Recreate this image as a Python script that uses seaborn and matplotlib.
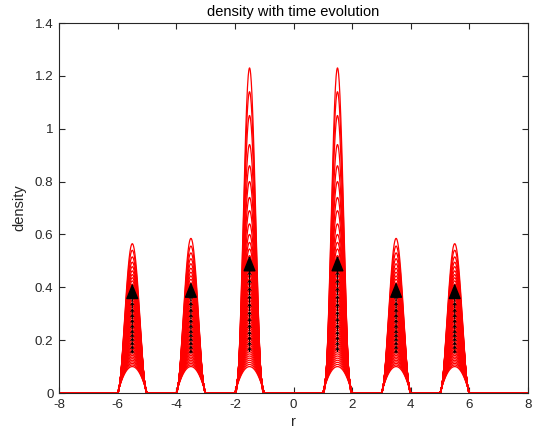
import numpy as np
import pandas as pd
import matplotlib
matplotlib.use("Agg")
import matplotlib.pyplot as plt
import seaborn as sns

# bump centres (support half-width 0.5)
centers = [-5.5, -3.5, -1.5, 1.5, 3.5, 5.5]
half_width = 0.5

# peak heights of successive time steps
peaks_outer = [0.100, 0.106, 0.112, 0.118, 0.124, 0.130, 0.136, 0.142, 0.148, 0.154,
               0.160, 0.166, 0.172, 0.178, 0.184, 0.190, 0.197, 0.204, 0.211, 0.218,
               0.225, 0.232, 0.239, 0.246, 0.253, 0.260, 0.268, 0.276, 0.284, 0.292,
               0.300, 0.308, 0.316, 0.324, 0.332, 0.340, 0.350, 0.360, 0.370, 0.380,
               0.390, 0.400, 0.412, 0.424, 0.436, 0.448, 0.462, 0.478, 0.495, 0.515,
               0.540, 0.565]
peaks_middle = [0.100, 0.106, 0.112, 0.118, 0.124, 0.130, 0.136, 0.142, 0.148, 0.154,
                0.160, 0.166, 0.172, 0.178, 0.184, 0.190, 0.197, 0.204, 0.211, 0.218,
                0.225, 0.232, 0.239, 0.246, 0.253, 0.260, 0.268, 0.276, 0.284, 0.292,
                0.300, 0.308, 0.316, 0.324, 0.333, 0.342, 0.352, 0.362, 0.372, 0.383,
                0.394, 0.405, 0.417, 0.430, 0.443, 0.457, 0.472, 0.489, 0.508, 0.530,
                0.556, 0.585]
peaks_inner = [0.100, 0.108, 0.116, 0.124, 0.132, 0.140, 0.148, 0.156, 0.164, 0.172,
               0.180, 0.188, 0.196, 0.204, 0.212, 0.220, 0.229, 0.238, 0.247, 0.256,
               0.265, 0.275, 0.285, 0.295, 0.305, 0.316, 0.327, 0.338, 0.350, 0.362,
               0.375, 0.388, 0.402, 0.416, 0.431, 0.446, 0.462, 0.480, 0.500, 0.520,
               0.545, 0.570, 0.600, 0.640, 0.690, 0.740, 0.800, 0.860, 0.940, 1.050,
               1.140, 1.230]
peaks_by_center = {-5.5: peaks_outer, -3.5: peaks_middle, -1.5: peaks_inner,
                   1.5: peaks_inner, 3.5: peaks_middle, 5.5: peaks_outer}

# arrow (velocity) markers: tail heights and final tip heights
arrow_tails_outer = [0.15, 0.165, 0.18, 0.195, 0.21, 0.225, 0.24, 0.26, 0.28,
                     0.30, 0.32, 0.345, 0.37]
arrow_tails_inner = [0.155, 0.175, 0.195, 0.215, 0.235, 0.26, 0.285, 0.31, 0.34,
                     0.37, 0.40, 0.43, 0.46]
arrow_tip = {-5.5: 0.415, -3.5: 0.42, -1.5: 0.52, 1.5: 0.52, 3.5: 0.42, 5.5: 0.415}

r = np.linspace(-8, 8, 3201)
rows = []
n_steps = len(peaks_inner)
for k in range(n_steps):
    dens = np.zeros_like(r)
    for c in centers:
        h = peaks_by_center[c][k]
        p = (h / 0.1) ** 0.45
        u = (r - c) / half_width
        inside = np.abs(u) < 1
        dens[inside] = h * (1 - u[inside] ** 2) ** p
    rows.append(pd.DataFrame({"r": r, "density": dens, "step": k}))
df = pd.concat(rows, ignore_index=True)

sns.set_style("white")
plt.rcParams["font.family"] = ["Liberation Sans", "DejaVu Sans"]

fig = plt.figure(figsize=(5.34, 4.40), dpi=100)
ax = fig.add_axes([59 / 534, 1 - 393 / 440, (528 - 59) / 534, (393 - 23) / 440])

sns.lineplot(data=df, x="r", y="density", units="step", estimator=None,
             color="red", linewidth=0.9, ax=ax, legend=False)

# velocity arrows
for c in centers:
    tails = arrow_tails_inner if abs(c) == 1.5 else arrow_tails_outer
    tip = arrow_tip[c]
    ys = list(tails) + [tip - 0.05]
    X = np.full(len(ys) - 1, c)
    Y = np.array(ys[:-1])
    V = np.diff(ys)
    ax.quiver(X, Y, np.zeros_like(V), V, angles="xy", scale_units="xy", scale=1,
              color="black", width=0.0025, headwidth=4, headlength=3,
              headaxislength=2.5, zorder=5)
    ax.annotate("", xy=(c, tip), xytext=(c, tails[-1]),
                arrowprops=dict(arrowstyle="-|>,head_length=0.6,head_width=0.24",
                                color="black", lw=1,
                                mutation_scale=16, shrinkA=0, shrinkB=0),
                zorder=6)

ax.set_xlim(-8, 8)
ax.set_ylim(0, 1.4)
ax.set_xticks(np.arange(-8, 9, 2))
ax.set_yticks(np.arange(0, 1.41, 0.2))
ax.set_yticklabels(["0", "0.2", "0.4", "0.6", "0.8", "1", "1.2", "1.4"])
ax.set_xticklabels([str(v) for v in range(-8, 9, 2)])

axc = "#262626"
for s in ax.spines.values():
    s.set_color(axc)
    s.set_linewidth(0.8)
    s.set_visible(True)
ax.tick_params(direction="in", length=4, width=0.8, colors=axc, labelsize=9.6,
               top=True, right=True, bottom=True, left=True,
               labelcolor=axc, pad=4)
ax.set_xlabel("r", fontsize=10.5, color=axc, labelpad=3)
ax.set_ylabel("density", fontsize=10.5, color=axc, labelpad=6)
ax.set_title("density with time evolution", fontsize=10.5, color="black", pad=5)

fig.savefig("out.png", dpi=100)
